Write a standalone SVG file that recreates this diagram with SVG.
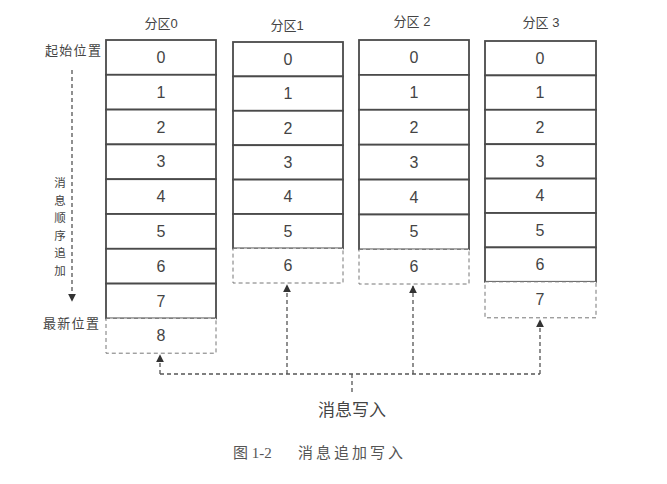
<svg xmlns="http://www.w3.org/2000/svg" width="667" height="484" viewBox="0 0 667 484">
<defs>
<style>
.c{fill:#fff;stroke:#4a4a4a;stroke-width:1.8}
.d{fill:#fff;stroke:#777;stroke-width:1;stroke-dasharray:4 3}
.n{font-family:"Liberation Sans",Arial,sans-serif;font-size:16px;fill:#444;text-anchor:middle;dominant-baseline:central}
.h{font-family:"Liberation Sans","Noto Sans CJK SC",sans-serif;font-size:13px;fill:#444;text-anchor:middle}
.l{font-family:"Noto Sans CJK SC",sans-serif;font-size:13px;fill:#444}
.v{font-family:"Noto Sans CJK SC",sans-serif;font-size:11.5px;fill:#444;text-anchor:middle}
.e{fill:none;stroke:#555;stroke-width:1.3;stroke-dasharray:4 3}
</style>
<marker id="a" viewBox="0 0 10 10" refX="9" refY="5" markerWidth="8" markerHeight="8" orient="auto" markerUnits="userSpaceOnUse">
<path d="M0,0 L10,5 L0,10 Z" fill="#333"/>
</marker>
</defs>
<rect width="667" height="484" fill="#fff"/>

<g id="labels">
<text class="l" x="45" y="55" letter-spacing="1.3">起始位置</text>
<text class="l" x="43" y="328" letter-spacing="1.3">最新位置</text>
<text class="v" x="60" y="187">消</text>
<text class="v" x="60" y="204.6">息</text>
<text class="v" x="60" y="222.2">顺</text>
<text class="v" x="60" y="239.8">序</text>
<text class="v" x="60" y="257.4">追</text>
<text class="v" x="60" y="275">加</text>
</g>

<g id="partition0">
<text class="h" x="161" y="28">分区0</text>
<rect class="c" x="106" y="40" width="110" height="34.8"/><text class="n" x="161" y="57.4">0</text>
<rect class="c" x="106" y="74.8" width="110" height="34.8"/><text class="n" x="161" y="92.2">1</text>
<rect class="c" x="106" y="109.6" width="110" height="34.8"/><text class="n" x="161" y="127">2</text>
<rect class="c" x="106" y="144.4" width="110" height="34.8"/><text class="n" x="161" y="161.8">3</text>
<rect class="c" x="106" y="179.2" width="110" height="34.8"/><text class="n" x="161" y="196.6">4</text>
<rect class="c" x="106" y="214" width="110" height="34.8"/><text class="n" x="161" y="231.4">5</text>
<rect class="c" x="106" y="248.8" width="110" height="34.8"/><text class="n" x="161" y="266.2">6</text>
<rect class="c" x="106" y="283.6" width="110" height="34.8"/><text class="n" x="161" y="301">7</text>
<rect class="d" x="106" y="318.4" width="110" height="34.8"/><text class="n" x="161" y="335.8">8</text>
</g>

<g id="partition1">
<text class="h" x="287" y="30">分区1</text>
<rect class="c" x="233" y="42" width="110" height="34.4"/><text class="n" x="288" y="59.2">0</text>
<rect class="c" x="233" y="76.4" width="110" height="34.4"/><text class="n" x="288" y="93.6">1</text>
<rect class="c" x="233" y="110.8" width="110" height="34.4"/><text class="n" x="288" y="128">2</text>
<rect class="c" x="233" y="145.2" width="110" height="34.4"/><text class="n" x="288" y="162.4">3</text>
<rect class="c" x="233" y="179.6" width="110" height="34.4"/><text class="n" x="288" y="196.8">4</text>
<rect class="c" x="233" y="214" width="110" height="34.4"/><text class="n" x="288" y="231.2">5</text>
<rect class="d" x="233" y="248.4" width="110" height="34.6"/><text class="n" x="288" y="265.7">6</text>
</g>

<g id="partition2">
<text class="h" x="412" y="26">分区 2</text>
<rect class="c" x="359" y="40" width="110" height="34.9"/><text class="n" x="414" y="57.4">0</text>
<rect class="c" x="359" y="74.9" width="110" height="34.9"/><text class="n" x="414" y="92.3">1</text>
<rect class="c" x="359" y="109.8" width="110" height="34.9"/><text class="n" x="414" y="127.2">2</text>
<rect class="c" x="359" y="144.7" width="110" height="34.9"/><text class="n" x="414" y="162.1">3</text>
<rect class="c" x="359" y="179.6" width="110" height="34.9"/><text class="n" x="414" y="197">4</text>
<rect class="c" x="359" y="214.5" width="110" height="34.9"/><text class="n" x="414" y="231.9">5</text>
<rect class="d" x="359" y="249.4" width="110" height="34.6"/><text class="n" x="414" y="266.7">6</text>
</g>

<g id="partition3">
<text class="h" x="541" y="27">分区 3</text>
<rect class="c" x="485" y="41" width="111" height="34.4"/><text class="n" x="540" y="58.2">0</text>
<rect class="c" x="485" y="75.4" width="111" height="34.4"/><text class="n" x="540" y="92.6">1</text>
<rect class="c" x="485" y="109.8" width="111" height="34.4"/><text class="n" x="540" y="127">2</text>
<rect class="c" x="485" y="144.2" width="111" height="34.4"/><text class="n" x="540" y="161.4">3</text>
<rect class="c" x="485" y="178.6" width="111" height="34.4"/><text class="n" x="540" y="195.8">4</text>
<rect class="c" x="485" y="213" width="111" height="34.4"/><text class="n" x="540" y="230.2">5</text>
<rect class="c" x="485" y="247.4" width="111" height="34.4"/><text class="n" x="540" y="264.6">6</text>
<rect class="d" x="485" y="281.8" width="111" height="36"/><text class="n" x="540" y="299.8">7</text>
</g>

<g id="connectors">
<path class="e" d="M72,70 V301" marker-end="url(#a)"/>
<path class="e" d="M160,374 H540"/>
<path class="e" d="M160,374 V355" marker-end="url(#a)"/>
<path class="e" d="M287,374 V285" marker-end="url(#a)"/>
<path class="e" d="M413,374 V286" marker-end="url(#a)"/>
<path class="e" d="M540,374 V320" marker-end="url(#a)"/>
<path class="e" d="M352,374 V395"/>
</g>

<g id="write">
<text x="352" y="416" font-family="'Noto Sans CJK SC',sans-serif" font-size="17" fill="#444" text-anchor="middle">消息写入</text>
</g>

<g id="caption">
<text x="233" y="458" font-family="'Liberation Serif','Noto Sans CJK SC',serif" font-size="15" fill="#555">图 1-2</text>
<text x="298" y="458" font-family="'Noto Sans CJK SC',serif" font-size="15" fill="#555" letter-spacing="3">消息追加写入</text>
</g>
</svg>
